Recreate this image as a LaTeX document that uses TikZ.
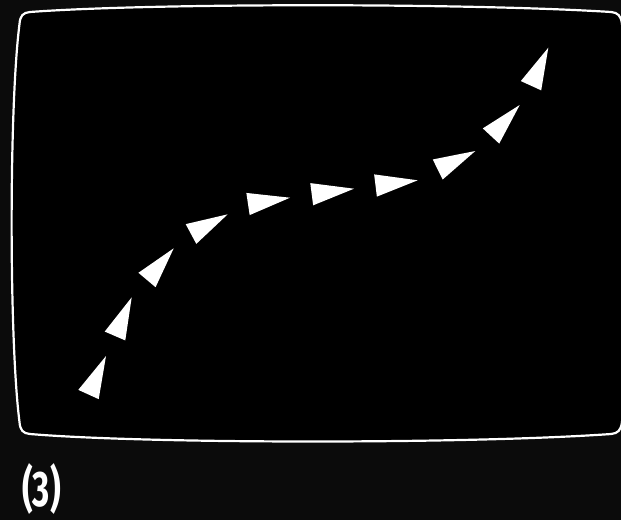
\documentclass[tikz,border=0pt]{standalone}
\usepackage{fontspec}
\newfontfamily\labelfont{Fira Sans}
\usetikzlibrary{calc}
\definecolor{scrOuter}{HTML}{0B0B0B}
\definecolor{scrInner}{HTML}{000000}
\definecolor{scrInk}{HTML}{FFFFFF}

\begin{document}
\begin{tikzpicture}[
    x=1pt, y=-1pt,
    every node/.style={color=scrInk},
    marker/.style={fill=scrInk},
]

% ----------------------------------------------------------------------
% Canvas (pixel grid, y grows downward)
% ----------------------------------------------------------------------
\fill[scrOuter] (0,0) rectangle (621,520);
\useasboundingbox (0,0) rectangle (621,520);

% Screen outline: slightly bulging sides, small rounded corners
\filldraw[fill=scrInner, draw=scrInk, line width=2.2pt]
    (30,12) .. controls (150,3) and (470,3) .. (611,12)
    .. controls (618,12.5) and (621,16) .. (622,24)
    .. controls (632,106) and (632,340) .. (622,422)
    .. controls (621,430) and (618,433.5) .. (611,434)
    .. controls (470,444) and (150,444) .. (30,434)
    .. controls (23,433.5) and (20,430) .. (19.5,422)
    .. controls (9,340) and (9,106) .. (19.5,24)
    .. controls (20,16) and (23,12.5) .. (30,12) -- cycle;

% ----------------------------------------------------------------------
% Arrowheads along the curve: base midpoint / tip
% ----------------------------------------------------------------------
\foreach \bx/\by/\tx/\ty in {
    88.5/394.5/106.0/356.0,
    115.0/336.0/131.7/297.3,
    147.0/280.0/173.7/248.3,
    191.0/234.0/227.7/214.3,
    248.0/204.0/290.0/197.7,
    311.7/194.2/354.0/188.7,
    375.5/185.5/417.7/180.3,
    437.7/169.5/475.3/151.0,
    491.0/136.0/519.7/105.0,
    531.0/85.7/548.3/47.7
} {
    \coordinate (b) at (\bx,\by);
    \coordinate (t) at (\tx,\ty);
    \fill[marker] (t) -- ($(b)!11.2pt!90:(t)$) -- ($(b)!11.2pt!-90:(t)$) -- cycle;
}

% Panel number
\node[anchor=base west, inner sep=0pt, xscale=0.66,
      font=\labelfont\bfseries\fontsize{50}{50}\selectfont]
    (panel) at (22,506.7) {(3)};

\end{tikzpicture}
\end{document}
